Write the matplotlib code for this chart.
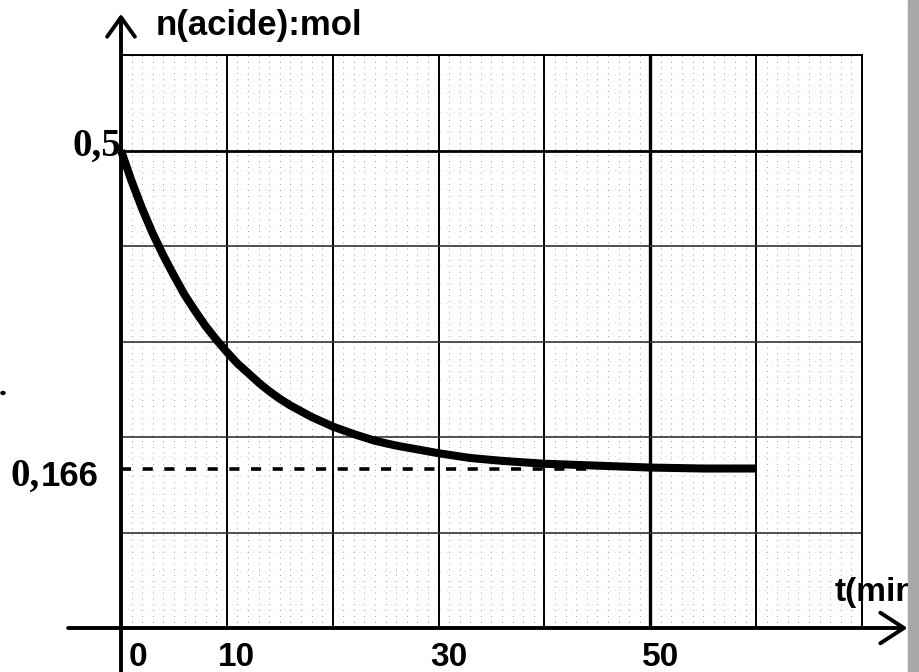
import matplotlib
matplotlib.use("Agg")
import matplotlib.pyplot as plt
from matplotlib.patches import Rectangle, Circle
from matplotlib.transforms import offset_copy
import numpy as np

# ---- data ----
t_min = [0, 1, 2, 3, 4, 5, 6, 7, 8, 9, 10, 11, 12, 13, 14, 15, 16, 17, 18,
         19, 20, 22, 24, 26, 28, 30, 33, 36, 40, 45, 50, 55, 60]
n_acide = [0.500, 0.468, 0.439, 0.413, 0.390, 0.369, 0.349, 0.332, 0.316,
           0.302, 0.289, 0.277, 0.267, 0.257, 0.248, 0.240, 0.233, 0.227,
           0.221, 0.216, 0.211, 0.203, 0.196, 0.191, 0.187, 0.183, 0.178,
           0.175, 0.172, 0.170, 0.168, 0.167, 0.167]
n_limit = 0.166
t_limit_end = 44
x_tick_values = [0, 10, 30, 50]
x_tick_labels = ["0", "10", "30", "50"]
y_label_top = "0,5"
y_label_lim = ("0,", "166")
y_title = "n(acide):mol"
x_title = "t(min)"

W, H = 920, 672
fig = plt.figure(figsize=(W / 100, H / 100), dpi=100)
fig.patch.set_facecolor("white")

def fx(px):
    return px / W

def fy(py):
    return 1 - py / H

ax = fig.add_axes([fx(121), fy(628), fx(862) - fx(121), fy(55) - fy(628)])
ax.set_xlim(0, 70)
ax.set_ylim(0, 0.6)
ax.set_facecolor("white")

for s in ["left", "bottom"]:
    ax.spines[s].set_visible(False)
for s in ["top", "right"]:
    ax.spines[s].set_linewidth(1.4)
    ax.spines[s].set_color("black")
ax.set_xticks([])
ax.set_yticks([])

# speckled minor texture
for t in np.arange(1, 70, 1):
    ax.axvline(t, color="#7a7a7a", lw=0.6, linestyle=(0, (1, 6)), zorder=0.5)
for v in np.arange(0.02, 0.6, 0.02):
    ax.axhline(v, color="#b5b5b5", lw=0.5, linestyle=(0, (1, 8)), zorder=0.5)

# major grid
for t in range(10, 70, 10):
    ax.axvline(t, color="black", lw=2.4 if t == 50 else 1.4, zorder=1)
for v in [0.1, 0.2, 0.3, 0.4, 0.5]:
    ax.axhline(v, color="black" if v == 0.5 else "#333333",
               lw=2.0 if v == 0.5 else 1.2, zorder=1)

# asymptote dashed line
ax.plot([0, t_limit_end], [n_limit, n_limit], color="black", lw=2.6,
        linestyle=(0, (2.8, 3.2)), zorder=2)

# curve
ax.plot(t_min, n_acide, color="black", lw=5.8, solid_capstyle="butt",
        solid_joinstyle="round", zorder=3, clip_on=False)

# axes arrows
ax.annotate("", xy=(74.3, 0), xytext=(-5.0, 0),
            arrowprops=dict(arrowstyle="->,head_length=0.85,head_width=0.55",
                            lw=2.8, color="black", shrinkA=0, shrinkB=0,
                            mutation_scale=20),
            annotation_clip=False, zorder=5)
ax.annotate("", xy=(0, 0.643), xytext=(0, -0.047),
            arrowprops=dict(arrowstyle="->,head_length=0.7,head_width=0.5",
                            lw=2.8, color="black", shrinkA=0, shrinkB=0,
                            mutation_scale=20),
            annotation_clip=False, zorder=5)

sans = "Liberation Sans"
serif = "Liberation Serif"

# x tick labels
for v, lab in zip(x_tick_values, x_tick_labels):
    tr = offset_copy(ax.transData, fig=fig, x=10 if v != 0 else 17, y=-29,
                     units="dots")
    ax.text(v, 0, lab, transform=tr, ha="center", va="center",
            fontsize=24, fontweight="bold", family=sans, clip_on=False)

# y labels
fig.text(fx(121), fy(146), y_label_top, ha="right", va="center",
         fontsize=28, fontweight="bold", family=serif)
fig.text(fx(11), fy(476), y_label_lim[0], ha="left", va="center",
         fontsize=28, fontweight="bold", family=serif)
fig.text(fx(41), fy(476), y_label_lim[1], ha="left", va="center",
         fontsize=25, fontweight="bold", family=sans)

# axis titles
fig.text(fx(156), fy(35), y_title, ha="left", va="baseline",
         fontsize=25, fontweight="bold", family=sans)
fig.text(fx(835), fy(601), x_title, ha="left", va="baseline",
         fontsize=24, fontweight="bold", family=sans)

# stray dot and gray side bar (scan artifacts)
fig.patches.append(Circle((fx(3), fy(393)), 0.0022, transform=fig.transFigure,
                          color="black"))
fig.patches.append(Rectangle((fx(908), 0), 1 - fx(908), 1,
                             transform=fig.transFigure, color="#a8a8a8",
                             zorder=10))

fig.savefig("out.png", dpi=100, facecolor="white")
